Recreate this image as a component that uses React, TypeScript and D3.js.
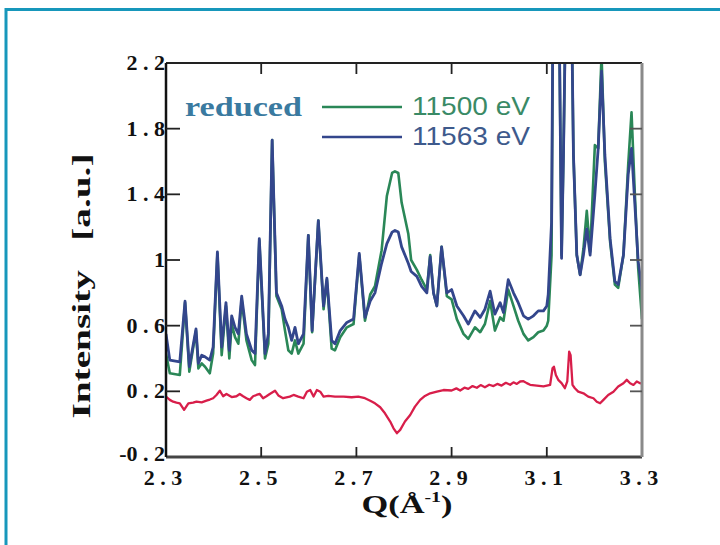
import React from "react";
import * as d3 from "d3";

// Q grid for the two energy scans
const qMain = [2.3,2.308,2.329,2.34,2.349,2.363,2.368,2.375,2.382,2.392,2.399,2.408,2.417,2.426,2.433,2.438,2.445,2.452,2.459,2.469,2.48,2.487,2.496,2.508,2.515,2.523,2.532,2.543,2.55,2.557,2.564,2.571,2.578,2.589,2.599,2.607,2.62,2.631,2.638,2.648,2.655,2.666,2.68,2.694,2.706,2.718,2.729,2.739,2.753,2.764,2.775,2.781,2.788,2.795,2.809,2.815,2.827,2.837,2.848,2.855,2.862,2.869,2.879,2.89,2.9,2.911,2.925,2.935,2.949,2.96,2.97,2.981,2.991,3.002,3.009,3.019,3.03,3.04,3.051,3.061,3.072,3.082,3.093,3.1,3.103,3.11,3.114,3.121,3.126,3.131,3.135,3.142,3.149,3.156,3.163,3.17,3.177,3.184,3.191,3.201,3.208,3.215,3.222,3.233,3.243,3.25,3.261,3.271,3.278,3.285,3.292,3.3];
const blue11563 = [0.55,0.39,0.38,0.75,0.35,0.58,0.37,0.42,0.41,0.39,0.47,1.05,0.47,0.74,0.45,0.66,0.59,0.55,0.78,0.55,0.45,0.43,1.13,0.43,0.55,1.73,0.8,0.72,0.64,0.59,0.51,0.59,0.49,0.55,1.15,0.57,1.24,0.72,0.89,0.51,0.49,0.57,0.62,0.64,1.04,0.65,0.75,0.8,0.98,1.1,1.17,1.18,1.17,1.08,0.98,0.93,0.9,0.84,0.8,1.02,0.8,0.72,1.08,0.8,0.82,0.72,0.66,0.61,0.69,0.65,0.7,0.81,0.67,0.74,0.68,0.88,0.8,0.74,0.66,0.64,0.66,0.69,0.69,0.72,0.79,1.23,3.0,3.5,2.5,1.01,1.64,3.0,3.2,1.64,1.03,0.91,1.03,1.19,1.03,1.4,1.68,2.15,1.64,1.13,0.87,0.85,1.03,1.52,1.68,1.34,0.99,0.82];
const green11500 = [0.43,0.31,0.3,0.74,0.32,0.57,0.34,0.37,0.35,0.31,0.43,1.04,0.42,0.72,0.4,0.61,0.53,0.49,0.76,0.51,0.39,0.36,1.12,0.4,0.49,1.73,0.78,0.7,0.57,0.45,0.43,0.51,0.43,0.49,1.15,0.56,1.24,0.7,0.88,0.46,0.45,0.53,0.59,0.61,1.03,0.63,0.79,0.84,1.06,1.39,1.53,1.54,1.53,1.35,1.16,1.0,0.94,0.88,0.82,1.03,0.8,0.72,1.08,0.78,0.76,0.64,0.55,0.52,0.59,0.56,0.61,0.75,0.57,0.65,0.63,0.82,0.72,0.63,0.55,0.51,0.53,0.56,0.57,0.6,0.63,1.03,3.0,3.5,2.5,1.03,1.64,3.0,3.2,1.64,1.03,0.91,1.07,1.3,1.05,1.7,1.68,2.25,1.6,1.11,0.85,0.83,1.03,1.58,1.9,1.4,0.95,0.64];

// difference curve
const qRed = [2.3,2.308,2.315,2.322,2.329,2.338,2.347,2.357,2.364,2.375,2.385,2.392,2.399,2.406,2.413,2.42,2.427,2.438,2.448,2.455,2.462,2.469,2.476,2.483,2.49,2.497,2.504,2.511,2.518,2.529,2.536,2.546,2.56,2.568,2.578,2.589,2.596,2.603,2.61,2.617,2.624,2.631,2.641,2.655,2.673,2.69,2.704,2.718,2.729,2.739,2.75,2.76,2.771,2.778,2.785,2.792,2.802,2.813,2.823,2.834,2.844,2.855,2.869,2.883,2.9,2.91,2.918,2.927,2.935,2.944,2.953,2.961,2.97,2.979,2.988,2.996,3.005,3.014,3.023,3.03,3.037,3.044,3.051,3.058,3.065,3.079,3.093,3.107,3.112,3.115,3.119,3.124,3.131,3.138,3.143,3.147,3.15,3.154,3.159,3.166,3.177,3.187,3.198,3.205,3.212,3.219,3.229,3.24,3.25,3.261,3.268,3.275,3.282,3.289,3.296,3.3];
const red = [0.168,0.148,0.137,0.131,0.127,0.087,0.127,0.131,0.137,0.133,0.143,0.15,0.158,0.178,0.204,0.17,0.184,0.165,0.17,0.184,0.17,0.158,0.148,0.17,0.178,0.184,0.158,0.17,0.184,0.204,0.175,0.158,0.168,0.178,0.168,0.158,0.198,0.208,0.168,0.208,0.198,0.168,0.172,0.168,0.168,0.164,0.168,0.158,0.143,0.127,0.103,0.066,0.016,-0.025,-0.055,-0.035,0.016,0.056,0.107,0.148,0.172,0.188,0.198,0.208,0.205,0.218,0.205,0.222,0.215,0.232,0.222,0.238,0.225,0.24,0.232,0.245,0.235,0.252,0.24,0.255,0.245,0.26,0.262,0.25,0.24,0.235,0.23,0.239,0.34,0.35,0.3,0.27,0.25,0.219,0.26,0.442,0.42,0.239,0.219,0.198,0.188,0.168,0.158,0.137,0.127,0.148,0.178,0.198,0.229,0.249,0.27,0.249,0.239,0.26,0.249,0.25];

const yTicks = [2.2, 1.8, 1.4, 1, 0.6, 0.2, -0.2];
const yTickLabels = ["2 . 2", "1 . 8", "1 . 4", "1", "0 . 6", "0 . 2", "-0 . 2"];
const xTicks = [2.3, 2.5, 2.7, 2.9, 3.1, 3.3];
const xTickLabels = ["2 . 3", "2 . 5", "2 . 7", "2 . 9", "3 . 1", "3 . 3"];

const L = 166, R = 642, T = 63, B = 457;
const serif = "'Liberation Serif', 'Times New Roman', serif";
const sans = "'Liberation Sans', Arial, sans-serif";
const C_BLUE = "#33468c";
const C_GREEN = "#2a8757";
const C_RED = "#d81e4a";

export default function App() {
  const x = d3.scaleLinear().domain([2.3, 3.3]).range([L, R]);
  const y = d3.scaleLinear().domain([-0.2, 2.2]).range([B, T]);
  const mk = (qs: number[], vs: number[]) =>
    d3.line<number>().x((_, i) => x(qs[i])).y((d) => y(d))(vs) || "";

  return (
    <svg width={720} height={545} style={{ position: "absolute", left: 0, top: 0, background: "#fff" }}>
      <rect x={6} y={9.5} width={800} height={800} fill="none" stroke="#1797bb" strokeWidth={3} />
      <defs>
        <clipPath id="plot">
          <rect x={L} y={T} width={R - L} height={B - T} />
        </clipPath>
      </defs>
      <g clipPath="url(#plot)" fill="none" strokeLinejoin="round">
        <path d={mk(qRed, red)} stroke={C_RED} strokeWidth={2.3} />
        <path d={mk(qMain, green11500)} stroke={C_GREEN} strokeWidth={2.6} />
        <path d={mk(qMain, blue11563)} stroke={C_BLUE} strokeWidth={2.8} />
      </g>
      {/* frame */}
      <line x1={L} x2={R} y1={T} y2={T} stroke="#222" strokeWidth={2} />
      <line x1={L} x2={R} y1={B} y2={B} stroke="#444" strokeWidth={3} />
      <line x1={L} x2={L} y1={T} y2={B} stroke="#111" strokeWidth={2.5} />
      <line x1={R} x2={R} y1={T} y2={B} stroke="#8a8a8a" strokeWidth={3} />
      {/* ticks */}
      {yTicks.slice(1, -1).map((v) => (
        <g key={"yt" + v}>
          <line x1={L} x2={L + 14} y1={y(v)} y2={y(v)} stroke="#222" strokeWidth={1.8} />
          <line x1={R - 12} x2={R} y1={y(v)} y2={y(v)} stroke="#555" strokeWidth={1.8} />
        </g>
      ))}
      {xTicks.slice(1, -1).map((v) => (
        <g key={"xt" + v}>
          <line x1={x(v)} x2={x(v)} y1={B} y2={B - 10} stroke="#222" strokeWidth={1.8} />
          <line x1={x(v)} x2={x(v)} y1={T} y2={T + 11} stroke="#222" strokeWidth={1.8} />
        </g>
      ))}
      {yTicks.map((v, i) => (
        <text key={"yl" + v} x={165} y={y(v) + (v < 0 ? 4 : 7)} textAnchor="end" fontFamily={serif} fontWeight="bold" fontSize={22} fill="#111">
          {yTickLabels[i]}
        </text>
      ))}
      {xTicks.map((v, i) => (
        <text key={"xl" + v} x={x(v) - 3} y={485} textAnchor="middle" fontFamily={serif} fontWeight="bold" fontSize={22} fill="#111">
          {xTickLabels[i]}
        </text>
      ))}
      <text x={407} y={513} textAnchor="middle" fontFamily={serif} fontWeight="bold" fontSize={26} fill="#111" textLength={91} lengthAdjust="spacingAndGlyphs">
        Q(Å<tspan fontSize={15} dy={-11}>-1</tspan><tspan dy={11}>)</tspan>
      </text>
      <text transform="translate(90,286) rotate(-90)" textAnchor="middle" fontFamily={serif} fontWeight="bold" fontSize={26} fill="#111" textLength={265} lengthAdjust="spacingAndGlyphs" style={{ whiteSpace: "pre" }}>
        {"Intensity   [a.u.]"}
      </text>
      {/* legend */}
      <text x={185} y={116} fontFamily={serif} fontWeight="bold" fontSize={28} fill="#3a7aa0" textLength={117} lengthAdjust="spacingAndGlyphs">reduced</text>
      <line x1={322} x2={402} y1={107} y2={107} stroke={C_GREEN} strokeWidth={2.4} />
      <line x1={322} x2={402} y1={137} y2={137} stroke={C_BLUE} strokeWidth={2.4} />
      <text x={412} y={115} fontFamily={sans} fontSize={25} fill="#3a8a66" textLength={118} lengthAdjust="spacingAndGlyphs">11500 eV</text>
      <text x={412} y={145} fontFamily={sans} fontSize={25} fill="#3e5a8c" textLength={118} lengthAdjust="spacingAndGlyphs">11563 eV</text>
    </svg>
  );
}
